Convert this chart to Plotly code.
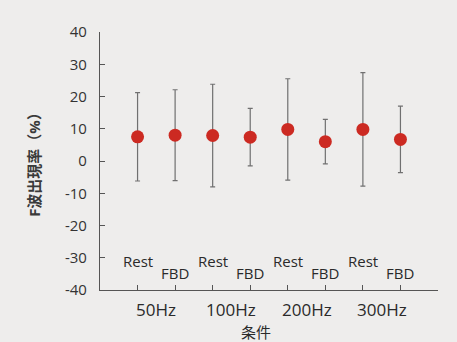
import plotly.graph_objects as go

conditions = ["Rest", "FBD", "Rest", "FBD", "Rest", "FBD", "Rest", "FBD"]
freq_labels = ["50Hz", "100Hz", "200Hz", "300Hz"]
means = [7.5, 8.0, 7.9, 7.4, 9.8, 6.0, 9.8, 6.7]
sd = [13.7, 14.1, 15.9, 8.9, 15.7, 6.9, 17.6, 10.3]
y_ticks = [40, 30, 20, 10, 0, -10, -20, -30, -40]
y_tick_text = ["40", "30", "20", "10", "0", "-10", "-20", "-30", "-40"]

xs = list(range(len(means)))
font = "Open Sans, Noto Sans CJK JP, sans-serif"

fig = go.Figure()
fig.add_trace(go.Scatter(
    x=xs, y=means, mode="markers",
    marker=dict(color="#cc2a22", size=13, line=dict(width=0)),
    error_y=dict(type="data", array=sd, visible=True, color="#707070",
                 thickness=1.2, width=2.5),
    showlegend=False,
))

annotations = []
for i, c in enumerate(conditions):
    annotations.append(dict(
        x=i, y=-31.0 if c == "Rest" else -34.7, xref="x", yref="y",
        text=c, showarrow=False, font=dict(size=15, color="#2a2a2a", family=font),
    ))
for j, f in enumerate(freq_labels):
    annotations.append(dict(
        x=2 * j + 0.5, y=-0.025, xref="x", yref="paper", yanchor="top",
        text=f, showarrow=False, font=dict(size=17, color="#2a2a2a", family=font),
    ))
annotations.append(dict(
    x=3.15, y=-0.115, xref="x", yref="paper", yanchor="top",
    text="条件", showarrow=False, font=dict(size=15, color="#2a2a2a", family=font),
))
annotations.append(dict(
    x=35, y=157, xref="paper", yref="paper", showarrow=False,
    text="", visible=False,
))
annotations.pop()

fig.update_layout(
    width=457, height=342,
    margin=dict(l=100, r=19, t=32, b=52, autoexpand=False),
    paper_bgcolor="#eeedec", plot_bgcolor="#eeedec",
    font=dict(family=font, color="#333333"),
    annotations=annotations,
    xaxis=dict(range=[-1, 8], tickvals=xs, showticklabels=False,
               ticks="inside", ticklen=5, tickcolor="#555555",
               showline=True, linecolor="#555555", linewidth=1.2,
               showgrid=False, zeroline=False, automargin=False),
    yaxis=dict(range=[-40, 40], tickvals=y_ticks, ticktext=y_tick_text,
               ticks="inside", ticklen=5,
               tickcolor="#555555", showline=True, linecolor="#555555",
               linewidth=1.2, showgrid=False, zeroline=False, automargin=False,
               tickfont=dict(size=15, color="#333333", family=font),
               ticklabelstandoff=9,
               title=dict(text="<b>F波出現率（%）</b>", standoff=20,
                          font=dict(size=15, color="#3a3a3a", family=font))),
)

fig.write_html("out.html", config={"displayModeBar": False},
               post_script="document.body.style.margin='0';document.body.style.overflow='hidden';")
